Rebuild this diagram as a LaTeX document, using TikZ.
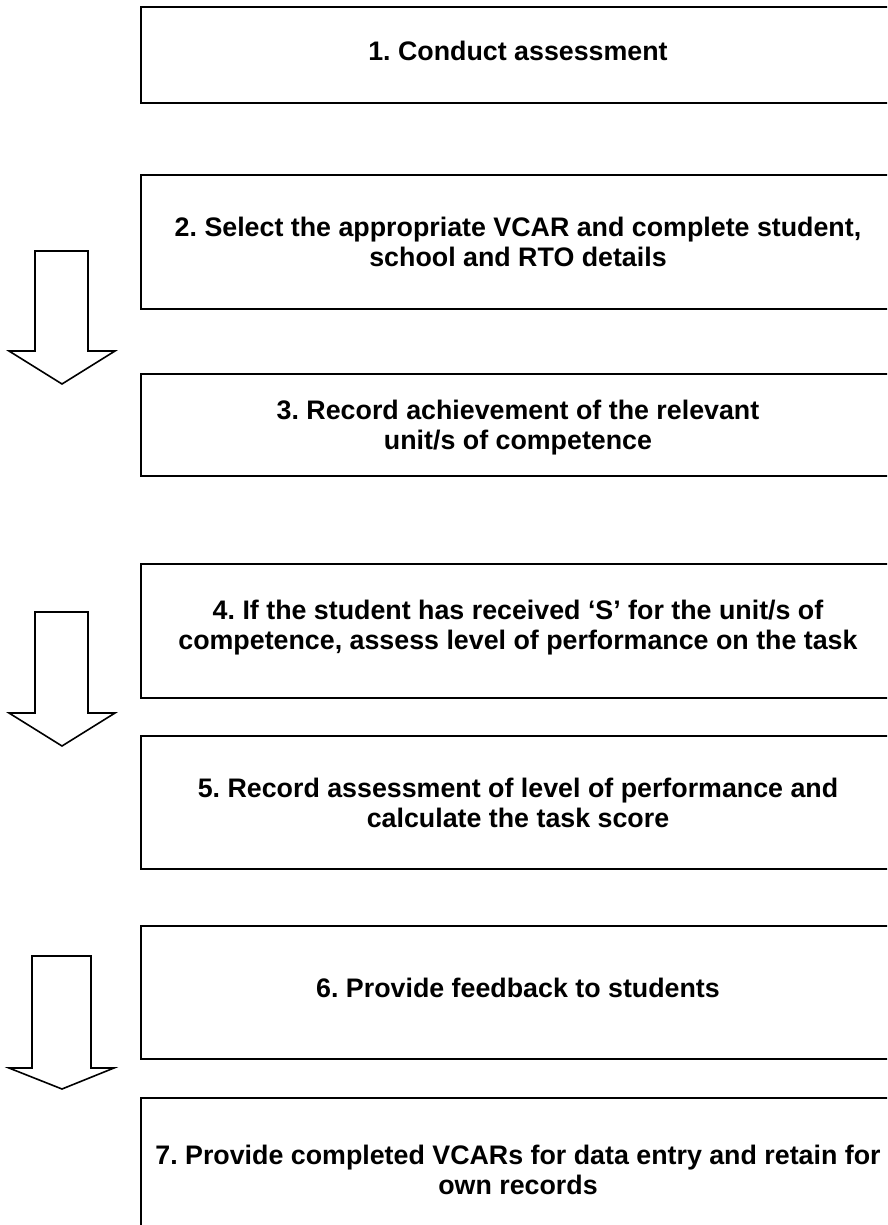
\documentclass[tikz,border=0pt]{standalone}
\usepackage{fontspec}
\setmainfont{Liberation Sans}
\frenchspacing
\begin{document}
\begin{tikzpicture}[x=1pt,y=-1pt,
  box/.style={draw=black,line width=1.6pt},
  lbl/.style={font=\bfseries\fontsize{26.8}{30}\selectfont,align=center,inner sep=0pt},
  bigarrow/.style={draw=black,line width=1.6pt,line join=miter,fill=white}]
\clip (0,0) rectangle (887,1225);
\useasboundingbox (0,0) rectangle (887,1225);
% boxes (right side runs past the page edge)
\node[box,minimum width=756pt,minimum height=96pt,anchor=north west,inner sep=0pt] (b1) at (140,6) {};
\node[box,minimum width=756pt,minimum height=134pt,anchor=north west,inner sep=0pt] (b2) at (140,174) {};
\node[box,minimum width=756pt,minimum height=102pt,anchor=north west,inner sep=0pt] (b3) at (140,373) {};
\node[box,minimum width=756pt,minimum height=134pt,anchor=north west,inner sep=0pt] (b4) at (140,563) {};
\node[box,minimum width=756pt,minimum height=133pt,anchor=north west,inner sep=0pt] (b5) at (140,735) {};
\node[box,minimum width=756pt,minimum height=133pt,anchor=north west,inner sep=0pt] (b6) at (140,925) {};
\node[box,minimum width=756pt,minimum height=160pt,anchor=north west,inner sep=0pt] (b7) at (140,1097) {};
% texts
\node[lbl] (t1) at (518,51) {1. Conduct assessment};
\node[lbl] (t2) at (518,242) {2. Select the appropriate VCAR and complete student,\\school and RTO details};
\node[lbl] (t3) at (518,428) {3. Record achievement of the relevant\\unit/s of competence};
\node[lbl] (t4) at (518,628) {4. If the student has received ‘S’ for the unit/s of\\competence, assess level of performance on the task};
\node[lbl] (t5) at (518,803) {5. Record assessment of level of performance and\\calculate the task score};
\node[lbl] (t6) at (518,988) {6. Provide feedback to students};
\node[lbl] (t7) at (518,1170) {7. Provide completed VCARs for data entry and retain for\\own records};
% block arrows
\draw[bigarrow] (35,251) -- (88,251) -- (88,351) -- (115,351) -- (62,384) -- (9,351) -- (35,351) -- cycle;
\draw[bigarrow] (35,612) -- (88,612) -- (88,713) -- (115,713) -- (62,746) -- (9,713) -- (35,713) -- cycle;
\draw[bigarrow] (32,956) -- (91,956) -- (91,1068) -- (114,1068) -- (62,1089) -- (9,1068) -- (32,1068) -- cycle;
\end{tikzpicture}
\end{document}
